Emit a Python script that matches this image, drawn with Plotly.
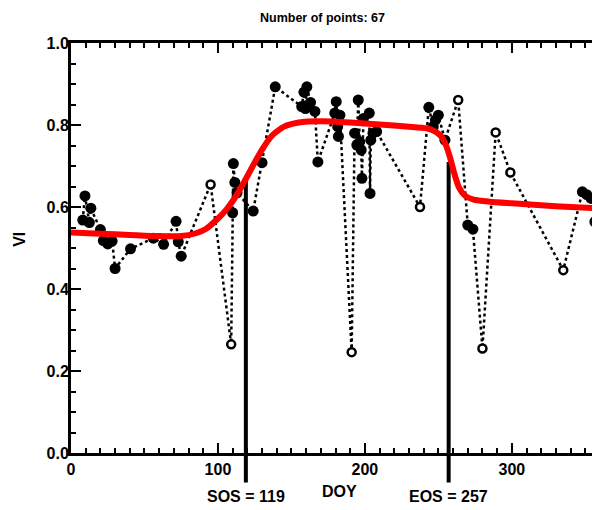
import plotly.graph_objects as go

# Observations (DOY, VI) and quality flag (1 = good / filled, 0 = poor / open)
doy = [8, 9.5, 12.5, 13.5, 20, 22, 25, 28, 30, 40.5,
       56, 63, 71.5, 73, 75, 95, 109, 110, 110.5, 111.5,
       113, 124, 130, 139, 157, 158.5, 159.5, 160.5, 163, 166,
       168, 179.5, 180.5, 181.5, 182, 183, 191, 193, 194.5, 195.5,
       196.5, 197.5, 198, 199, 203, 203.5, 204, 205.5, 208, 237.5,
       243.5, 246.5, 248, 250, 254.5, 263.5, 270, 273.5, 280, 289,
       299, 335, 348, 351, 354, 356.5, 359]
vi = [0.568, 0.627, 0.562, 0.597, 0.545, 0.518, 0.510, 0.517, 0.450, 0.498,
      0.524, 0.509, 0.565, 0.515, 0.480, 0.655, 0.265, 0.586, 0.706, 0.660,
      0.635, 0.590, 0.708, 0.893, 0.845, 0.880, 0.840, 0.893, 0.855, 0.833,
      0.710, 0.829, 0.857, 0.796, 0.772, 0.824, 0.246, 0.780, 0.751, 0.861,
      0.759, 0.739, 0.670, 0.816, 0.829, 0.633, 0.763, 0.780, 0.784, 0.600,
      0.843, 0.796, 0.812, 0.824, 0.763, 0.861, 0.556, 0.546, 0.255, 0.782,
      0.684, 0.446, 0.637, 0.630, 0.621, 0.564, 0.610]
good = [1, 1, 1, 1, 1, 1, 1, 1, 1, 1,
        1, 1, 1, 1, 1, 0, 0, 1, 1, 1,
        1, 1, 1, 1, 1, 1, 1, 1, 1, 1,
        1, 1, 1, 1, 1, 1, 0, 1, 1, 1,
        1, 1, 1, 1, 1, 1, 1, 1, 1, 0,
        1, 1, 1, 1, 1, 0, 1, 1, 0, 0,
        0, 0, 1, 1, 1, 1, 1]

# Fitted curve
fit_doy = [0, 20, 40, 60, 75, 85, 92, 100, 106, 112, 118, 124, 130, 137, 145,
           155, 170, 190, 210, 230, 242, 248, 252, 255, 258, 261, 264, 268,
           274, 285, 300, 320, 340, 360]
fit_vi = [0.538, 0.535, 0.532, 0.529, 0.529, 0.536, 0.547, 0.572, 0.595, 0.625,
          0.662, 0.702, 0.740, 0.775, 0.796, 0.806, 0.809, 0.806, 0.801, 0.796,
          0.792, 0.784, 0.772, 0.752, 0.720, 0.680, 0.648, 0.628, 0.618, 0.613,
          0.609, 0.604, 0.600, 0.597]

sos_doy, eos_doy = 119, 257
sos_vi, eos_vi = 0.667, 0.71

x_ticks = [0, 100, 200, 300]
y_ticks = [0.0, 0.2, 0.4, 0.6, 0.8, 1.0]
y_tick_text = ["0.0", "0.2", "0.4", "0.6", "0.8", "1.0"]

FONT = "Liberation Sans"

open_x = [d for d, g in zip(doy, good) if not g]
open_y = [v for v, g in zip(vi, good) if not g]
fill_x = [d for d, g in zip(doy, good) if g]
fill_y = [v for v, g in zip(vi, good) if g]

fig = go.Figure()
fig.add_trace(go.Scatter(x=doy, y=vi, mode="lines",
                         line=dict(color="black", width=2.5, dash="3px,3px"),
                         hoverinfo="skip"))
fig.add_trace(go.Scatter(x=open_x, y=open_y, mode="markers",
                         marker=dict(symbol="circle", size=8, color="white",
                                     line=dict(color="black", width=2.5))))
fig.add_trace(go.Scatter(x=fill_x, y=fill_y, mode="markers",
                         marker=dict(symbol="circle", size=11, color="black",
                                     line=dict(width=0))))
fig.add_trace(go.Scatter(x=fit_doy, y=fit_vi, mode="lines",
                         line=dict(color="#ff0000", width=6, shape="spline", smoothing=0.6)))

shapes = []
for d, v in [(sos_doy, sos_vi), (eos_doy, eos_vi)]:
    shapes.append(dict(type="line", xref="x", yref="y", x0=d, x1=d, y0=0, y1=v,
                       line=dict(color="black", width=4), layer="between"))
    shapes.append(dict(type="line", xref="x", yref="paper", x0=d, x1=d, y0=-0.072, y1=0,
                       line=dict(color="black", width=4), layer="above"))

annotations = [
    dict(text=f"Number of points: {len(doy)}", xref="paper", yref="paper",
         x=0.476, y=1.061, showarrow=False, xanchor="center", yanchor="middle",
         font=dict(family=FONT, size=12.5, color="black", weight="bold")),
    dict(text="DOY", xref="paper", yref="paper", x=0.5085, y=-0.093,
         showarrow=False, xanchor="center", yanchor="middle",
         font=dict(family=FONT, size=16, color="black", weight="bold")),
    dict(text="VI", xref="paper", yref="paper", x=-0.0964, y=0.52, textangle=-90,
         showarrow=False, xanchor="center", yanchor="middle",
         font=dict(family=FONT, size=16, color="black", weight="bold")),
    dict(text=f"SOS = {sos_doy}", xref="x", yref="paper", x=sos_doy, y=-0.105,
         showarrow=False, xanchor="center", yanchor="middle",
         font=dict(family=FONT, size=16, color="black", weight="bold")),
    dict(text=f"EOS = {eos_doy}", xref="x", yref="paper", x=eos_doy, y=-0.105,
         showarrow=False, xanchor="center", yanchor="middle",
         font=dict(family=FONT, size=16, color="black", weight="bold")),
]

# The page body has an 8px margin, so the figure is sized/offset to compensate.
fig.update_layout(
    width=592, height=502,
    margin=dict(l=63, r=0, t=35, b=57, pad=0, autoexpand=False),
    paper_bgcolor="white", plot_bgcolor="white",
    showlegend=False,
    shapes=shapes,
    annotations=annotations,
    xaxis=dict(range=[0, 360], tickvals=x_ticks, ticks="inside", ticklen=10, tickwidth=2,
               tickcolor="black", showline=True, linewidth=3, linecolor="black",
               mirror="ticks", showgrid=False, zeroline=False, automargin=False,
               minor=dict(dtick=10, tick0=0, ticks="inside", ticklen=5, tickwidth=2,
                          tickcolor="black", showgrid=False),
               tickfont=dict(family=FONT, size=16, color="black", weight="bold")),
    yaxis=dict(range=[0, 1], tickvals=y_ticks, ticktext=y_tick_text, ticks="inside",
               ticklen=10, tickwidth=2, tickcolor="black", showline=True, linewidth=3,
               linecolor="black", mirror=False, showgrid=False, zeroline=False,
               automargin=False, ticklabelstandoff=-4,
               minor=dict(dtick=0.05, tick0=0, ticks="inside", ticklen=5, tickwidth=2,
                          tickcolor="black", showgrid=False),
               tickfont=dict(family=FONT, size=16, color="black", weight="bold")),
)

fig.write_html("out.html")
